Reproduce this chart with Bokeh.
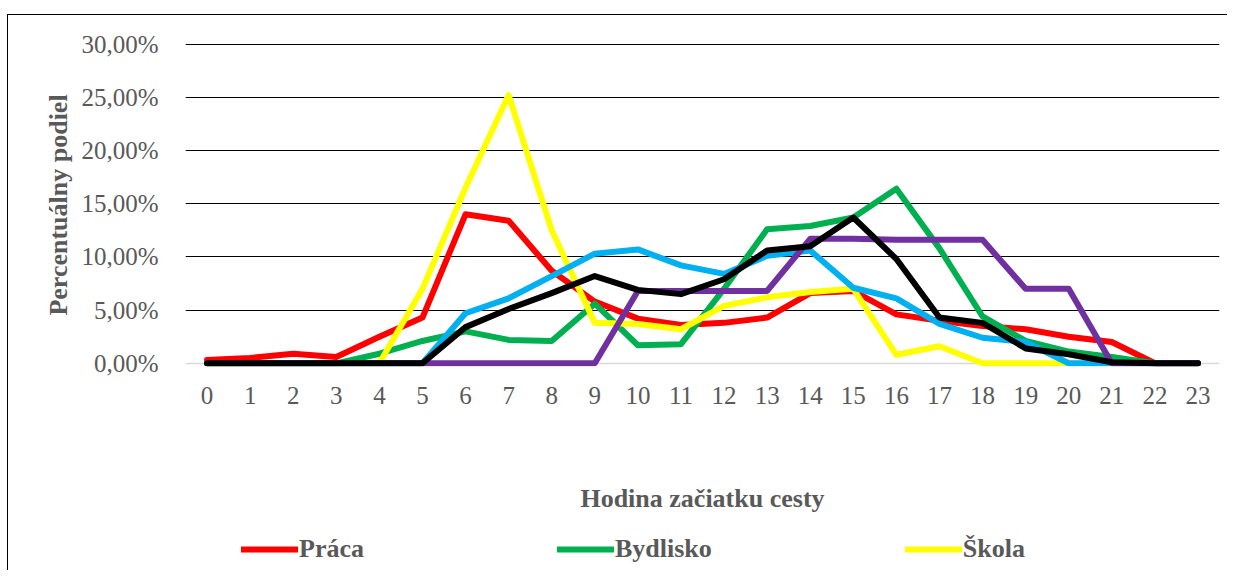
from bokeh.plotting import figure
from bokeh.layouts import column
from bokeh.models import (Range1d, FixedTicker, CustomJSTickFormatter, Legend,
                          LegendItem, Grid)
from bokeh.embed import file_html
from bokeh.resources import INLINE

hours = list(range(24))
hour_labels = [str(h) for h in hours]

prace = [0.3, 0.5, 0.9, 0.6, 2.5, 4.3, 14.0, 13.4, 8.7, 5.8, 4.2, 3.6,
         3.8, 4.3, 6.6, 6.8, 4.6, 4.0, 3.5, 3.2, 2.5, 2.0, 0.0, 0.0]
bydlisko = [0.0, 0.0, 0.0, 0.0, 0.9, 2.1, 3.0, 2.2, 2.1, 5.6, 1.7, 1.8,
            7.0, 12.6, 12.9, 13.7, 16.4, 10.8, 4.4, 2.1, 1.1, 0.6, 0.0, 0.0]
skola = [0.0, 0.0, 0.0, 0.0, 0.0, 7.0, 16.5, 25.2, 12.5, 3.8, 3.7, 3.2,
         5.4, 6.2, 6.7, 7.0, 0.8, 1.6, 0.0, 0.0, 0.0]
modra = [0.0, 0.0, 0.0, 0.0, 0.0, 0.0, 4.7, 6.1, 8.2, 10.3, 10.7, 9.2,
         8.4, 10.1, 10.6, 7.1, 6.1, 3.7, 2.4, 2.0, 0.0, 0.0, 0.0, 0.0]
fialova = [0.0, 0.0, 0.0, 0.0, 0.0, 0.0, 0.0, 0.0, 0.0, 0.0, 6.8, 6.8,
           6.8, 6.8, 11.7, 11.7, 11.6, 11.6, 11.6, 7.0, 7.0, 0.0, 0.0, 0.0]
spolu = [0.0, 0.0, 0.0, 0.0, 0.0, 0.0, 3.4, 5.1, 6.6, 8.2, 6.9, 6.5,
         7.9, 10.6, 11.0, 13.7, 9.8, 4.3, 3.8, 1.4, 0.85, 0.1, 0.0, 0.0]

legend_labels = ["Práca", "Bydlisko", "Škola"]
colors = ["#FF0000", "#00B050", "#FFFF00", "#00B0F0", "#7030A0", "#000000"]
y_ticks = [0, 5, 10, 15, 20, 25, 30]

FONT = "Liberation Serif"
TXT = "#595959"

p = figure(width=1219, height=500, output_backend="svg", toolbar_location=None,
           x_range=Range1d(-0.5, 23.5), y_range=Range1d(-0.3, 30.05),
           min_border_left=177, min_border_right=9, min_border_top=28,
           min_border_bottom=150)
p.frame_width = 1033
p.frame_height = 322
p.styles = {"border-left": "1px solid black", "border-top": "1px solid black",
            "margin-top": "14px", "margin-left": "7px"}
p.outline_line_color = None
p.background_fill_color = "white"
p.border_fill_color = "white"

# grids
p.xgrid.visible = False
p.ygrid.ticker = FixedTicker(ticks=y_ticks[1:])
p.ygrid.grid_line_color = "black"
p.ygrid.grid_line_width = 1
zero_grid = Grid(dimension=1, ticker=FixedTicker(ticks=y_ticks[:1]),
                 grid_line_color="#d9d9d9", grid_line_width=1.5)
p.add_layout(zero_grid)

# axes
p.xaxis.ticker = FixedTicker(ticks=hours)
p.xaxis.major_label_overrides = {h: l for h, l in zip(hours, hour_labels)}
p.xaxis.axis_line_color = None
p.xaxis.major_tick_line_color = None
p.xaxis.minor_tick_line_color = None
p.xaxis.major_label_standoff = 14
p.xaxis.major_label_text_font = FONT
p.xaxis.major_label_text_font_size = "25px"
p.xaxis.major_label_text_color = TXT
p.xaxis.axis_label = "Hodina začiatku cesty"
p.xaxis.axis_label_text_font = FONT
p.xaxis.axis_label_text_font_style = "bold"
p.xaxis.axis_label_text_font_size = "26px"
p.xaxis.axis_label_text_color = TXT
p.xaxis.axis_label_standoff = 77

p.yaxis.ticker = FixedTicker(ticks=y_ticks)
p.yaxis.formatter = CustomJSTickFormatter(
    code="return tick.toFixed(2).replace('.', ',') + '%';")
p.yaxis.axis_line_color = None
p.yaxis.major_tick_line_color = None
p.yaxis.minor_tick_line_color = None
p.yaxis.major_label_standoff = 21
p.yaxis.major_label_text_font = FONT
p.yaxis.major_label_text_font_size = "25px"
p.yaxis.major_label_text_color = TXT
p.yaxis.axis_label = "Percentuálny podiel"
p.yaxis.axis_label_text_font = FONT
p.yaxis.axis_label_text_font_style = "bold"
p.yaxis.axis_label_text_font_size = "26px"
p.yaxis.axis_label_text_color = TXT
p.yaxis.axis_label_standoff = 5

series = [prace, bydlisko, skola, modra, fialova, spolu]
for vals, col in zip(series, colors):
    p.line(hours[:len(vals)], vals, line_color=col, line_width=6,
           line_cap="round", line_join="round")

# legend strip below the chart (continuation of the same chart area)
q = figure(width=1219, height=55, output_backend="svg", toolbar_location=None,
           x_axis_type=None, y_axis_type=None, min_border=0,
           x_range=Range1d(-0.5, 23.5), y_range=Range1d(-200, -199))
q.styles = {"border-left": "1px solid black", "margin-left": "7px"}
q.outline_line_color = None
q.background_fill_color = "white"
q.border_fill_color = "white"
q.xgrid.visible = False
q.ygrid.visible = False

proxies = []
for vals, col in zip(series[:3], colors[:3]):
    proxies.append(q.line(hours[:len(vals)], vals, line_color=col,
                          line_width=6, line_cap="round"))

legend = Legend(
    items=[LegendItem(label=lab, renderers=[r])
           for lab, r in zip(legend_labels, proxies)],
    orientation="horizontal", location=(56, 6), spacing=193,
    label_standoff=1, glyph_width=57, glyph_height=26, label_height=26,
    label_text_font=FONT, label_text_font_style="bold",
    label_text_font_size="26px", label_text_color=TXT,
    padding=0, margin=0, border_line_color=None,
    background_fill_color=None)
q.add_layout(legend, "center")

layout = column(p, q, spacing=0)
open("out.html", "w").write(file_html(layout, INLINE))
